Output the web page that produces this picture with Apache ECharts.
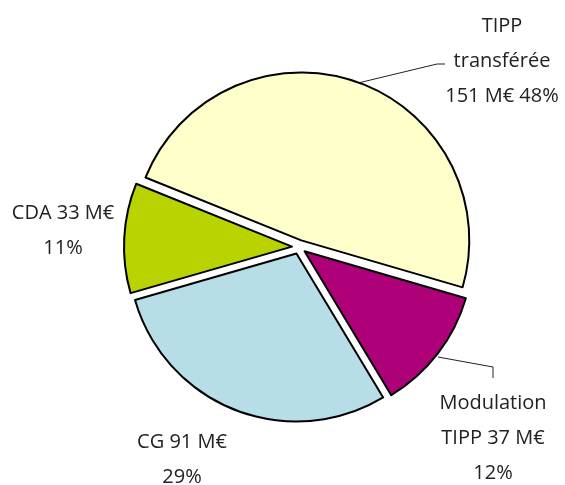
<!DOCTYPE html>
<html>
<head>
<meta charset="utf-8">
<script src="https://cdn.jsdelivr.net/npm/echarts@6/dist/echarts.min.js"></script>
<style>
html,body{margin:0;padding:0;background:#fff;}
#chart{width:565px;height:485px;}
</style>
</head>
<body>
<div id="chart"></div>
<script>
// Data
var categories = ['TIPP transférée', 'Modulation TIPP', 'CG', 'CDA'];
var values = [151, 37, 91, 33];
var labelLines = [
  ['TIPP', 'transférée', '151 M€ 48%'],
  ['Modulation', 'TIPP 37 M€', '12%'],
  ['CG 91 M€', '29%'],
  ['CDA 33 M€', '11%']
];
var colors = ['#FFFFCC', '#AE0079', '#B7DDE6', '#B9D300'];

// Layout (label anchor positions and leader lines)
var labelPos = [[502, 61], [493, 438], [182, 460], [63, 231]];
var leaderPts = [
  [[358, 83], [437, 64], [445, 64]],
  [[438, 357], [493, 367], [493, 378]],
  null,
  null
];

var chart = echarts.init(document.getElementById('chart'), null, {renderer: 'canvas'});
var data = categories.map(function (c, i) {
  return {
    name: c,
    value: values[i],
    selected: true,
    itemStyle: {color: colors[i]}
  };
});

var graphics = [];
labelLines.forEach(function (lines, i) {
  graphics.push({
    type: 'text',
    x: labelPos[i][0],
    y: labelPos[i][1],
    silent: true,
    style: {
      text: lines.join('\n'),
      fontFamily: 'Open Sans',
      fontSize: 20,
      lineHeight: 35,
      fill: '#222',
      align: 'center',
      verticalAlign: 'middle',
      textAlign: 'center',
      textVerticalAlign: 'middle'
    }
  });
  if (leaderPts[i]) {
    graphics.push({
      type: 'polyline',
      silent: true,
      shape: {points: leaderPts[i]},
      style: {stroke: '#222', lineWidth: 1, fill: null}
    });
  }
});

chart.setOption({
  animation: false,
  backgroundColor: '#fff',
  graphic: graphics,
  series: [{
    type: 'pie',
    center: [299, 247],
    radius: 168,
    startAngle: 158,
    clockwise: true,
    selectedMode: 'multiple',
    selectedOffset: 7,
    emphasis: {disabled: true},
    itemStyle: {borderColor: '#000', borderWidth: 2},
    label: {show: false},
    labelLine: {show: false},
    data: data
  }]
});
</script>
</body>
</html>
